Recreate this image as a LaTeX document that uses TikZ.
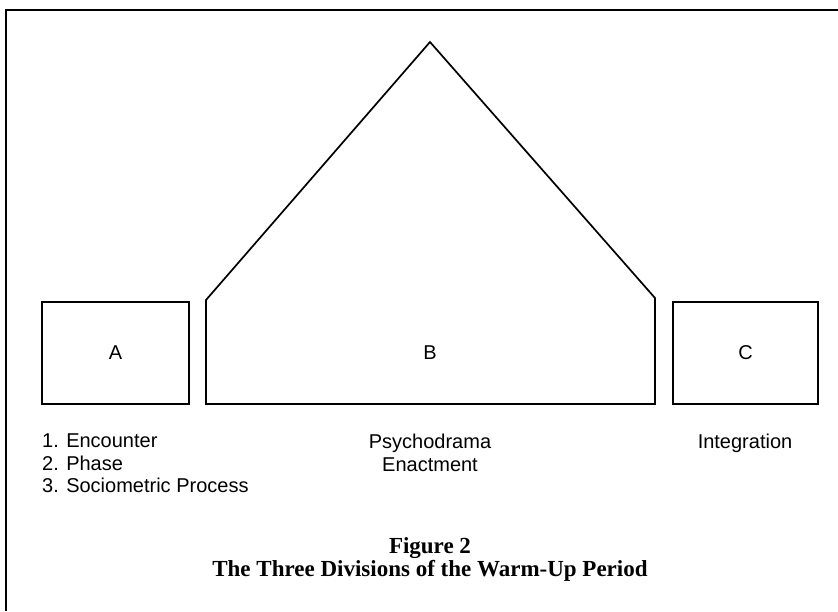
\documentclass[tikz,border=0pt]{standalone}
\usepackage{fontspec}
\setmainfont{Liberation Sans}
\newfontfamily\captionfont{Liberation Serif}
\usetikzlibrary{positioning}

\tikzset{
  stagebox/.style={draw,line width=1.7pt,inner sep=0pt},
  stagelabel/.style={font=\fontsize{20}{22.5}\selectfont,inner sep=0pt},
  listlabel/.style={font=\fontsize{20}{22.5}\selectfont,inner sep=0pt,align=left},
}

\begin{document}
\begin{tikzpicture}[x=1pt,y=-1pt]
\useasboundingbox (0,0) rectangle (838,611);

% Frame (top and left edges)
\draw[line width=2pt] (6,611) -- (6,10) -- (838,10);

% Stage A
\node[stagebox,minimum width=147pt,minimum height=102pt] (boxA) at (115.5,353) {};
\node[stagelabel] (labA) at (boxA.center) {A};

% Stage B (the peak)
\coordinate (peak) at (430,42);
\draw[line width=1.7pt] (206,404) -- (206,300) -- (peak) -- (655,298) -- (655,404) -- cycle;
\node[stagelabel] (labB) at (430,353) {B};

% Stage C
\node[stagebox,minimum width=145pt,minimum height=102pt] (boxC) at (745.5,353) {};
\node[stagelabel] (labC) at (boxC.center) {C};

% Labels under the stages
\node[listlabel,anchor=north west] (listA) at (42,434)
  {1. Encounter\\2. Phase\\3. Sociometric Process};
\node[listlabel,align=center,anchor=north] (listB) at (430,434)
  {Psychodrama\\Enactment};
\node[listlabel,anchor=north] (listC) at (745,434) {Integration};

% Caption
\node[font=\captionfont\bfseries\fontsize{23}{23}\selectfont,align=center,inner sep=0pt,anchor=north]
  (caption) at (430,537) {Figure 2\\The Three Divisions of the Warm-Up Period};
\end{tikzpicture}
\end{document}
